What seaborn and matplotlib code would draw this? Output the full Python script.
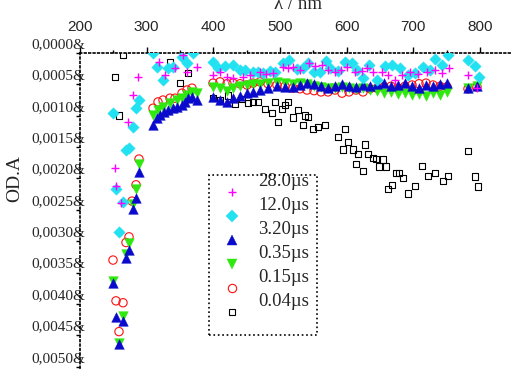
import numpy as np
import pandas as pd
import matplotlib
matplotlib.use("Agg")
import matplotlib.pyplot as plt
import seaborn as sns
from matplotlib.lines import Line2D
from matplotlib.legend_handler import HandlerLine2D
from matplotlib.patches import Rectangle
from matplotlib.transforms import ScaledTranslation
from matplotlib.ticker import FixedLocator

# ---------------- data (wavelength in nm, ΔOD in units of 1e-4) ----------------
labels = ["28.0µs", "12.0µs", "3.20µs", "0.35µs", "0.15µs", "0.04µs"]

x_28 = [252.5, 254, 261.5, 272, 279.5, 287, 318.5, 327.5, 342.5, 354.5, 360.5, 375.5,
        399.5, 410, 420.5, 429.5, 444.5, 455, 470, 479, 489.5, 504.5, 512, 519.5, 530,
        543.5, 552.5, 563, 572, 582.5, 591.5, 600.5, 612.5, 623, 630.5, 639.5, 653, 662,
        672.5, 683, 695, 707, 720.5, 732.5, 743, 753.5, 782, 795.5]
y_28 = [18.3, 21.2, 23.9, 11.0, 6.7, 3.8, 1.4, 3.5, 2.4, 0.3, 3.0, 2.2,
        3.5, 3.0, 3.8, 4.0, 3.8, 3.5, 3.0, 3.3, 3.2, 2.2, 2.4, 2.2, 2.7,
        1.6, 2.1, 1.9, 2.7, 3.0, 2.7, 2.2, 3.0, 2.9, 2.4, 3.0, 3.0, 3.5,
        4.3, 3.5, 3.0, 3.3, 3.0, 2.7, 3.2, 2.4, 3.5, 5.6]

x_12 = [249.5, 254, 258.5, 264.5, 269, 273.5, 279.5, 284, 288.5, 309.5, 315.5, 324.5,
        332, 339.5, 353, 360.5, 369.5,
        399.5, 407, 417.5, 429.5, 440, 447.5, 459.5, 467, 474.5, 485, 492.5, 504.5,
        513.5, 525.5, 534.5, 542, 551, 560, 569, 575, 587, 597.5, 608, 615.5, 624.5,
        633.5, 645.5, 657.5, 668, 680, 692, 702.5, 714.5, 725, 732.5, 743, 752,
        782, 792.5, 798.5]
y_12 = [9.6, 21.7, 28.5, 23.7, 15.4, 15.1, 11.8, 8.8, 7.5, 0.0, 2.2, 4.3,
        2.4, 2.2, 0.6, 1.6, 0.0,
        1.4, 2.4, 2.1, 1.9, 2.7, 2.7, 3.0, 3.0, 3.2, 2.9, 3.0, 1.6,
        1.1, 2.5, 2.4, 1.6, 3.0, 3.0, 1.3, 2.4, 2.9, 1.4, 1.6, 2.7, 4.0,
        1.9, 4.3, 2.1, 1.9, 2.4, 3.5, 3.2, 2.2, 2.7, 1.0, 1.9, 0.3,
        1.1, 2.1, 3.8]

x_320 = [249.5, 254, 258.5, 264.5, 269, 273.5, 279.5, 284, 288.5,
         309.5, 315.5, 320, 326, 332, 339.5, 345.5, 353, 357.5, 362, 368, 375.5,
         399.5, 410, 420.5, 429.5, 440, 450.5, 459.5, 470, 482, 495.5,
         507.5, 519.5, 530, 540.5, 551, 561.5, 572, 582.5, 593, 603.5,
         614, 624.5, 635, 645.5, 656, 666.5, 677, 687.5, 698, 708.5,
         719, 729.5, 740, 750.5, 782, 795.5]
y_320 = [36.6, 42.0, 46.3, 42.7, 32.6, 31.4, 24.8, 23.1, 18.9,
         11.5, 10.3, 9.9, 9.4, 9.1, 8.8, 8.6, 8.3, 7.8, 7.2, 7.0, 7.5,
         7.0, 7.5, 7.8, 7.2, 6.8, 6.4, 6.2, 5.9, 5.6, 5.3,
         5.4, 5.4, 5.1, 4.8, 4.9, 5.3, 5.6, 5.3, 4.9, 5.3,
         5.4, 5.1, 5.3, 4.9, 4.8, 5.3, 5.1, 4.8, 5.3, 5.6,
         5.1, 5.3, 4.9, 4.8, 5.6, 5.3]

x_035 = [249.5, 258.5, 264.5, 269, 273.5, 279.5, 284, 288.5,
         309.5, 317, 324.5, 335, 345.5, 353, 360.5, 368, 375.5,
         399.5, 410, 420.5, 429.5, 440, 450.5, 459.5, 470, 482, 495.5,
         507.5, 519.5, 530, 540.5, 551, 561.5, 572, 582.5, 593, 603.5,
         614, 624.5, 635, 645.5, 656, 666.5, 677, 687.5, 698, 708.5,
         719, 729.5, 740, 750.5, 782, 795.5]
y_035 = [36.3, 46.2, 41.9, 32.0, 30.2, 24.0, 21.7, 17.7,
         9.9, 9.1, 8.6, 8.0, 7.5, 7.2, 6.7, 6.2, 6.4,
         5.4, 5.6, 6.0, 5.6, 5.3, 5.1, 4.9, 4.9, 4.8, 4.6,
         4.8, 4.9, 4.8, 4.9, 5.3, 5.4, 5.6, 5.6, 5.4, 5.6,
         5.7, 5.6, 5.9, 6.0, 6.4, 6.2, 6.5, 6.4, 6.7, 6.5,
         6.8, 6.4, 6.7, 6.2, 5.6, 5.3]

x_015 = [249.5, 254, 258.5, 264.5, 269, 273.5, 278, 284, 288.5,
         309.5, 317, 324.5, 335, 342.5, 353, 360.5, 368,
         399.5, 410, 420.5, 429.5, 440, 450.5, 459.5, 470, 482, 495.5,
         507.5, 519.5, 530, 540.5, 551, 561.5, 572, 582.5, 593, 603.5,
         614, 624.5, 635, 645.5, 656, 666.5, 677, 687.5, 698, 708.5,
         719, 729.5, 740, 750.5, 782, 795.5]
y_015 = [33.0, 39.5, 44.4, 39.8, 30.2, 29.3, 23.6, 21.0, 16.9,
         8.8, 7.8, 7.5, 7.2, 7.2, 6.4, 5.9, 5.6,
         4.8, 4.6, 4.9, 4.8, 4.9, 5.1, 4.8, 4.6, 4.9, 5.1,
         5.3, 5.6, 5.7, 5.9, 6.0, 6.2, 6.2, 5.9, 6.4, 6.2,
         5.9, 6.2, 5.7, 5.6, 5.4, 5.3, 5.6, 5.3, 5.1, 4.9,
         4.8, 5.1, 5.3, 5.4, 5.7, 5.4]

x_004 = [252.5, 258.5, 264.5, 335, 350, 362,
         399.5, 410, 422, 432.5, 443, 452, 459.5, 467, 477.5, 488, 492.5, 497,
         503, 507.5, 512, 519.5, 527, 534.5, 537.5, 542, 549.5, 557, 567.5,
         587, 594.5, 597.5, 602, 609.5, 614, 617, 624.5, 627.5, 632, 639.5,
         644, 648.5, 654.5, 659, 662, 668, 674, 678.5, 684.5, 692, 702.5,
         713, 722, 732.5, 744.5, 752, 782, 792.5, 797]
y_004 = [3.8, 10.0, 0.3, 1.4, 4.8, 3.2,
         7.2, 7.6, 6.8, 8.1, 7.3, 8.0, 7.8, 7.8, 8.9, 9.6, 7.8, 11.0,
         8.9, 8.3, 7.8, 10.3, 9.1, 11.5, 10.0, 10.2, 12.1, 11.8, 11.5,
         13.4, 15.4, 12.1, 14.2, 15.4, 17.7, 16.1, 18.8, 14.6, 16.1, 16.7,
         16.9, 18.1, 17.0, 18.1, 21.7, 21.0, 19.1, 19.1, 19.9, 22.4, 21.2,
         18.0, 19.6, 19.1, 20.4, 19.6, 15.6, 19.7, 21.3]

yticks = [0.0, 0.0005, 0.0010, 0.0015, 0.0020, 0.0025, 0.0030, 0.0035, 0.0040, 0.0045, 0.0050]
ytick_labels = ["0,0000&", "0,0005&", "0,0010&", "0,0015&", "0,0020&", "0,0025&",
                "0,0030&", "0,0035&", "0,0040&", "0,0045&", "0,0050&"]
xticks = [200, 300, 400, 500, 600, 700, 800]
xminor = [250, 350, 450, 550, 650, 750]

series_x = [x_28, x_12, x_320, x_035, x_015, x_004]
series_y = [y_28, y_12, y_320, y_035, y_015, y_004]

# ---------------- styles ----------------
styles = {
    "28.0µs": dict(marker="+", color="#FF00FF", s=30, filled=False, z=7),
    "12.0µs": dict(marker="D", color="#22E2F2", s=34, filled=True, z=6),
    "3.20µs": dict(marker="^", color="#0A0ACC", s=48, filled=True, z=5),
    "0.35µs": dict(marker="v", color="#2EE810", s=48, filled=True, z=4),
    "0.15µs": dict(marker="o", color="#FF1010", s=36, filled=False, z=3),
    "0.04µs": dict(marker="s", color="#000000", s=22, filled=False, z=2),
}

sns.set_theme(style="white")
plt.rcParams["font.family"] = ["Liberation Serif", "DejaVu Serif"]

fig = plt.figure(figsize=(5.12, 3.8), dpi=100)
ax = fig.add_axes([80 / 512, 1 - 368 / 380, 1 - 80 / 512, (368 - 53) / 380])

for lab, xs, ys in zip(labels, series_x, series_y):
    st = styles[lab]
    df = pd.DataFrame({"wl": xs, "od": np.asarray(ys) * 1e-4})
    if st["marker"] == "+":
        sns.scatterplot(data=df, x="wl", y="od", marker="+", color=st["color"],
                        s=st["s"], linewidth=1.0, ax=ax, legend=False, zorder=st["z"])
    elif st["filled"]:
        sns.scatterplot(data=df, x="wl", y="od", marker=st["marker"], color=st["color"],
                        edgecolor=st["color"], linewidth=0.3, s=st["s"], ax=ax,
                        legend=False, zorder=st["z"])
    else:
        sns.scatterplot(data=df, x="wl", y="od", marker=st["marker"], facecolor="none",
                        edgecolor=st["color"], linewidth=0.8, s=st["s"], ax=ax,
                        legend=False, zorder=st["z"])

ax.set_xlim(200, 848)
ax.set_ylim(5.02e-3, 0)

# axes styling
for side in ["right", "bottom"]:
    ax.spines[side].set_visible(False)
for side in ["left", "top"]:
    ax.spines[side].set_linestyle(":")
    ax.spines[side].set_linewidth(1.2)
    ax.spines[side].set_color("black")

ax.xaxis.tick_top()
ax.set_xticks(xticks)
ax.xaxis.set_minor_locator(FixedLocator(xminor))
ax.set_xticklabels([str(v) for v in xticks], family="Liberation Sans", fontsize=11)
ax.tick_params(axis="x", which="major", direction="out", length=4, width=1, color="black",
               top=True, bottom=False, labeltop=True, labelbottom=False, pad=9.5)
ax.tick_params(axis="x", which="minor", direction="out", length=2, width=1, color="black",
               top=True, bottom=False)

ax.set_yticks(yticks)
ax.set_yticklabels(ytick_labels, fontsize=11)
ax.tick_params(axis="y", which="major", direction="out", length=3, width=1, color="black",
               left=True, pad=0)
offset = ScaledTranslation(0.092, 0.10, fig.dpi_scale_trans)
for t in ax.get_yticklabels():
    t.set_transform(t.get_transform() + offset)

ax.set_xlabel("λ / nm", fontsize=13.5)
ax.xaxis.set_label_position("top")
ax.xaxis.set_label_coords(0.505, 1.14)
ax.set_ylabel("OD.A", fontsize=14)
ax.yaxis.set_label_coords(-0.132, 0.60)
ax.grid(False)


class OffsetMarkerHandler(HandlerLine2D):
    def __init__(self, dy, **kw):
        super().__init__(**kw)
        self.dy = dy

    def create_artists(self, legend, orig_handle, xdescent, ydescent, width, height,
                       fontsize, trans):
        arts = super().create_artists(legend, orig_handle, xdescent, ydescent, width,
                                      height, fontsize, trans)
        for a in arts:
            a.set_ydata(np.asarray(a.get_ydata()) - self.dy)
        return arts


handles = []
for lab in labels:
    st = styles[lab]
    ms = np.sqrt(st["s"])
    if st["marker"] == "+":
        h = Line2D([], [], linestyle="none", marker="+", color=st["color"], markersize=ms,
                   markeredgewidth=1.0)
    elif st["filled"]:
        h = Line2D([], [], linestyle="none", marker=st["marker"], color=st["color"],
                   markerfacecolor=st["color"], markeredgecolor=st["color"], markersize=ms,
                   markeredgewidth=0.3)
    else:
        h = Line2D([], [], linestyle="none", marker=st["marker"], color=st["color"],
                   markerfacecolor="none", markeredgecolor=st["color"], markersize=ms,
                   markeredgewidth=0.8)
    handles.append(h)

handler = OffsetMarkerHandler(dy=8.6)
leg = ax.legend(handles, labels, loc="upper left",
                bbox_to_anchor=(222.6 / 512, 1 - 173 / 380), bbox_transform=fig.transFigure,
                frameon=False, prop={"family": "Liberation Serif", "size": 13.5},
                handlelength=1.0, handletextpad=0.9, borderpad=0, borderaxespad=0,
                labelspacing=0.37, handler_map={Line2D: handler})
leg.set_zorder(10)

fig.add_artist(Rectangle((209 / 512, 1 - 335 / 380), (317 - 209) / 512, (335 - 175) / 380,
                         transform=fig.transFigure, fill=False, linestyle=":",
                         linewidth=1.2, edgecolor="black", zorder=9))

fig.savefig("out.png", dpi=100)
